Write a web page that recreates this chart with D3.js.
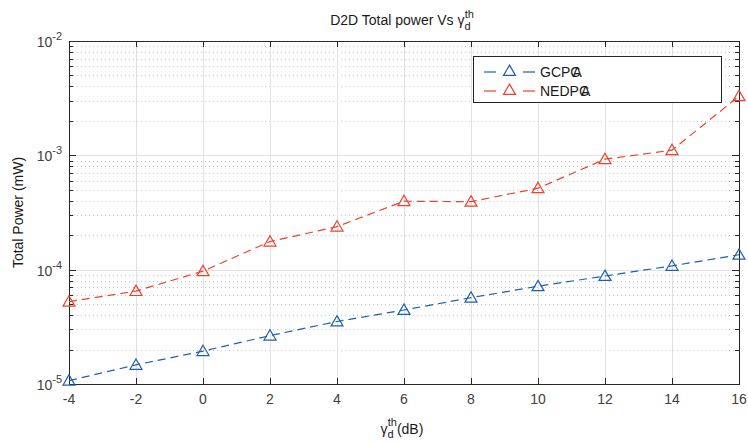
<!DOCTYPE html>
<html>
<head>
<meta charset="utf-8">
<script src="https://cdn.jsdelivr.net/npm/d3@7"></script>
<style>
  html, body { margin: 0; padding: 0; background: #fff; }
  svg { display: block; font-family: "Liberation Sans", Arial, Helvetica, sans-serif; }
</style>
</head>
<body>
<svg id="chart" width="748" height="444"></svg>
<script>
// Threshold SINR values (dB)
const gammaDb = [-4, -2, 0, 2, 4, 6, 8, 10, 12, 14, 16];
// Total power (mW) for each scheme
const gcpcPower  = [1.07e-5, 1.47e-5, 1.94e-5, 2.65e-5, 3.52e-5, 4.44e-5, 5.69e-5, 7.16e-5, 8.8e-5, 1.08e-4, 1.35e-4];
const nedpcPower = [5.25e-5, 6.5e-5, 9.7e-5, 1.76e-4, 2.38e-4, 3.97e-4, 3.93e-4, 5.16e-4, 9.25e-4, 1.11e-3, 3.29e-3];
const xTicks = [-4, -2, 0, 2, 4, 6, 8, 10, 12, 14, 16];
const yDecades = [-5, -4, -3, -2];
const seriesNames = ["GCPC", "NEDPC"];

const svg = d3.select("#chart");
const m = { left: 69, right: 739, top: 41, bottom: 384 };
const axisColor = "#262626";
const blue = "#1a5fb4", red = "#f0402a";

const x = d3.scaleLinear().domain([-4, 16]).range([m.left, m.right]);
const y = d3.scaleLog().domain([1e-5, 1e-2]).range([m.bottom, m.top]);

// minor values 2..9 x 10^k
const minorVals = [];
for (let k = -5; k < -2; k++) for (let j = 2; j <= 9; j++) minorVals.push(j * Math.pow(10, k));
const majorVals = yDecades.map(e => Math.pow(10, e));

const grid = svg.append("g");
// minor horizontal grid (dotted)
grid.selectAll("line.ymin").data(minorVals).enter().append("line")
  .attr("x1", m.left).attr("x2", m.right)
  .attr("y1", d => Math.round(y(d)) + 0.5).attr("y2", d => Math.round(y(d)) + 0.5)
  .attr("stroke", "#c8c8c8").attr("stroke-width", 1).attr("stroke-dasharray", "1,3");
// major grid
grid.selectAll("line.ymaj").data(majorVals).enter().append("line")
  .attr("x1", m.left).attr("x2", m.right)
  .attr("y1", d => Math.round(y(d)) + 0.5).attr("y2", d => Math.round(y(d)) + 0.5)
  .attr("stroke", "#e2e2e2").attr("stroke-width", 1);
grid.selectAll("line.xmaj").data(xTicks).enter().append("line")
  .attr("y1", m.top).attr("y2", m.bottom)
  .attr("x1", d => Math.round(x(d)) + 0.5).attr("x2", d => Math.round(x(d)) + 0.5)
  .attr("stroke", "#e2e2e2").attr("stroke-width", 1);

// axes with inward ticks
const ax = svg.append("g").attr("stroke", axisColor).attr("stroke-width", 1).attr("fill", "none");
ax.append("rect").attr("x", m.left + 0.5).attr("y", m.top + 0.5)
  .attr("width", m.right - m.left).attr("height", m.bottom - m.top);
xTicks.forEach(t => {
  const px = Math.round(x(t)) + 0.5;
  ax.append("line").attr("x1", px).attr("x2", px).attr("y1", m.bottom).attr("y2", m.bottom - 6);
  ax.append("line").attr("x1", px).attr("x2", px).attr("y1", m.top).attr("y2", m.top + 6);
});
majorVals.forEach(v => {
  const py = Math.round(y(v)) + 0.5;
  ax.append("line").attr("x1", m.left).attr("x2", m.left + 7).attr("y1", py).attr("y2", py);
  ax.append("line").attr("x1", m.right).attr("x2", m.right - 7).attr("y1", py).attr("y2", py);
});
minorVals.forEach(v => {
  const py = Math.round(y(v)) + 0.5;
  ax.append("line").attr("x1", m.left).attr("x2", m.left + 4).attr("y1", py).attr("y2", py);
  ax.append("line").attr("x1", m.right).attr("x2", m.right - 4).attr("y1", py).attr("y2", py);
});

// tick labels
const lab = svg.append("g").attr("fill", "#404040").attr("font-size", 14);
lab.selectAll("text.xt").data(xTicks).enter().append("text")
  .attr("x", d => x(d)).attr("y", m.bottom + 20).attr("text-anchor", "middle").text(d => d);
yDecades.forEach(e => {
  const t = lab.append("text").attr("x", m.left - 7).attr("y", y(Math.pow(10, e)) + 6)
    .attr("text-anchor", "end");
  t.append("tspan").text("10");
  t.append("tspan").attr("dy", -7).attr("font-size", 11).text(e);
});

// title
const title = svg.append("text").attr("x", (m.left + m.right) / 2 - 2).attr("y", 25)
  .attr("text-anchor", "middle").attr("font-size", 14).attr("fill", "#1a1a1a");
title.append("tspan").text("D2D Total power Vs γ");
title.append("tspan").attr("font-size", 11).attr("dy", 5).text("d");
title.append("tspan").attr("font-size", 11).attr("dx", -6).attr("dy", -12).text("th");

// x label
const xl = svg.append("text").attr("x", 402).attr("y", 434).attr("text-anchor", "middle")
  .attr("font-size", 14).attr("fill", "#1a1a1a");
xl.append("tspan").text("γ");
xl.append("tspan").attr("font-size", 11).attr("dy", 4).text("d");
xl.append("tspan").attr("font-size", 11).attr("dx", -6).attr("dy", -12).text("th");
xl.append("tspan").attr("dy", 8).text("(dB)");

// y label
svg.append("text").attr("transform", `translate(23,${(m.top + m.bottom) / 2}) rotate(-90)`)
  .attr("text-anchor", "middle").attr("font-size", 14).attr("fill", "#1a1a1a")
  .text("Total Power (mW)");

// series
const tri = d3.symbol().type(d3.symbolTriangle).size(62);
const series = [
  { name: seriesNames[0], vals: gcpcPower, color: blue },
  { name: seriesNames[1], vals: nedpcPower, color: red }
];
const line = d3.line().x(d => x(d[0])).y(d => y(d[1]));
series.forEach(s => {
  const pts = gammaDb.map((g, i) => [g, s.vals[i]]);
  svg.append("path").datum(pts).attr("d", line).attr("fill", "none")
    .attr("stroke", s.color).attr("stroke-width", 1.2).attr("stroke-dasharray", "8,5");
  svg.selectAll(null).data(pts).enter().append("path")
    .attr("d", tri).attr("transform", d => `translate(${x(d[0])},${y(d[1]) + 1})`)
    .attr("fill", "none").attr("stroke", s.color).attr("stroke-width", 1.2);
});

// legend
const lg = svg.append("g");
lg.append("rect").attr("x", 473.5).attr("y", 56.5).attr("width", 248).attr("height", 46)
  .attr("fill", "#fff").attr("stroke", "#262626").attr("stroke-width", 1);
series.forEach((s, i) => {
  const cy = 72 + i * 19;
  lg.append("line").attr("x1", 484).attr("x2", 496).attr("y1", cy).attr("y2", cy)
    .attr("stroke", s.color).attr("stroke-width", 1.2);
  lg.append("line").attr("x1", 523).attr("x2", 535).attr("y1", cy).attr("y2", cy)
    .attr("stroke", s.color).attr("stroke-width", 1.2);
  lg.append("path").attr("d", tri).attr("transform", `translate(509.5,${cy})`)
    .attr("fill", "none").attr("stroke", s.color).attr("stroke-width", 1.2);
  const t = lg.append("text").attr("x", 540).attr("y", cy + 5).attr("font-size", 14).attr("fill", "#1a1a1a");
  t.append("tspan").text(s.name);
  t.append("tspan").attr("dx", -8).text("A");
});
</script>
</body>
</html>
